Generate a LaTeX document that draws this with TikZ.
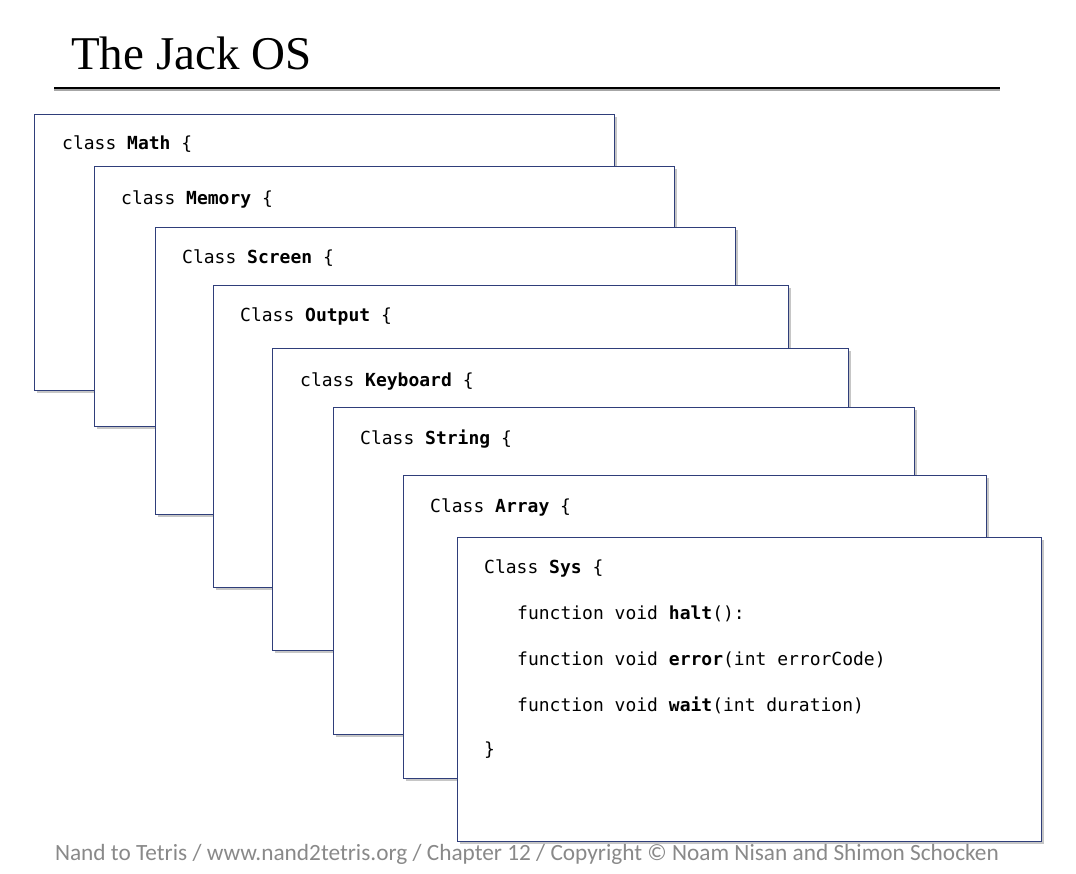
\documentclass[tikz,border=0pt]{standalone}
\usepackage{fontspec}
\setmainfont{Liberation Serif}
\newfontfamily\codefont{DejaVu Sans Mono}
\newfontfamily\footfont{Carlito}
\usepackage{xcolor}
\usetikzlibrary{shadows}
\definecolor{jackblue}{RGB}{47,62,122}
\definecolor{footgray}{RGB}{137,137,137}

\begin{document}
\begin{tikzpicture}[x=1pt,y=-1pt,
  osbox/.style={draw=jackblue,line width=1.3pt,fill=white,anchor=north west,inner sep=0pt,
    drop shadow={shadow xshift=2.5pt,shadow yshift=-2.5pt,fill=black!50,opacity=.45}},
  code/.style={anchor=base west,inner sep=0pt,font=\codefont\fontsize{18}{20}\selectfont}]
\useasboundingbox (0,0) rectangle (1076,874);
% title and rule
\node[anchor=base west,inner sep=0pt,font=\fontsize{47}{50}\selectfont] (title) at (71,70) {The Jack OS};
\coordinate (rulel) at (54,88);
\coordinate (ruler) at (1000,88);
\draw[black!35,line width=2pt] ([yshift=-2pt]rulel) -- ([yshift=-2pt]ruler);
\draw[line width=2.4pt] (rulel) -- (ruler);
% stacked class cards
\node[osbox,minimum width=580,minimum height=276] (math) at (34,114) {};
\node[code] (mathhdr) at (62,150) {class \textbf{Math} \{};
\node[osbox,minimum width=580,minimum height=260] (memory) at (94,166) {};
\node[code] (memoryhdr) at (121,205) {class \textbf{Memory} \{};
\node[osbox,minimum width=580,minimum height=287] (screen) at (155,227) {};
\node[code] (screenhdr) at (182,264) {Class \textbf{Screen} \{};
\node[osbox,minimum width=575,minimum height=302] (output) at (213,285) {};
\node[code] (outputhdr) at (240,322) {Class \textbf{Output} \{};
\node[osbox,minimum width=576,minimum height=302] (keyboard) at (272,348) {};
\node[code] (keyboardhdr) at (300,386) {class \textbf{Keyboard} \{};
\node[osbox,minimum width=581,minimum height=327] (string) at (333,407) {};
\node[code] (stringhdr) at (360,444) {Class \textbf{String} \{};
\node[osbox,minimum width=583,minimum height=303] (array) at (403,475) {};
\node[code] (arrayhdr) at (430,512) {Class \textbf{Array} \{};
\node[osbox,minimum width=584,minimum height=304] (sys) at (457,537) {};
\node[code] (syshdr) at (484,573) {Class \textbf{Sys} \{};
\node[code] (halt) at (517,619) {function void \textbf{halt}():};
\node[code] (error) at (517,665) {function void \textbf{error}(int errorCode)};
\node[code] (wait) at (517,711) {function void \textbf{wait}(int duration)};
\node[code] (sysend) at (484,755) {\}};
% footer
\node[anchor=base,inner sep=0pt,text=footgray,font=\footfont\fontsize{23.3}{26}\selectfont] (footer) at (527,860)
  {Nand to Tetris / www.nand2tetris.org / Chapter 12 / Copyright \textcopyright{} Noam Nisan and Shimon Schocken};
\end{tikzpicture}
\end{document}
